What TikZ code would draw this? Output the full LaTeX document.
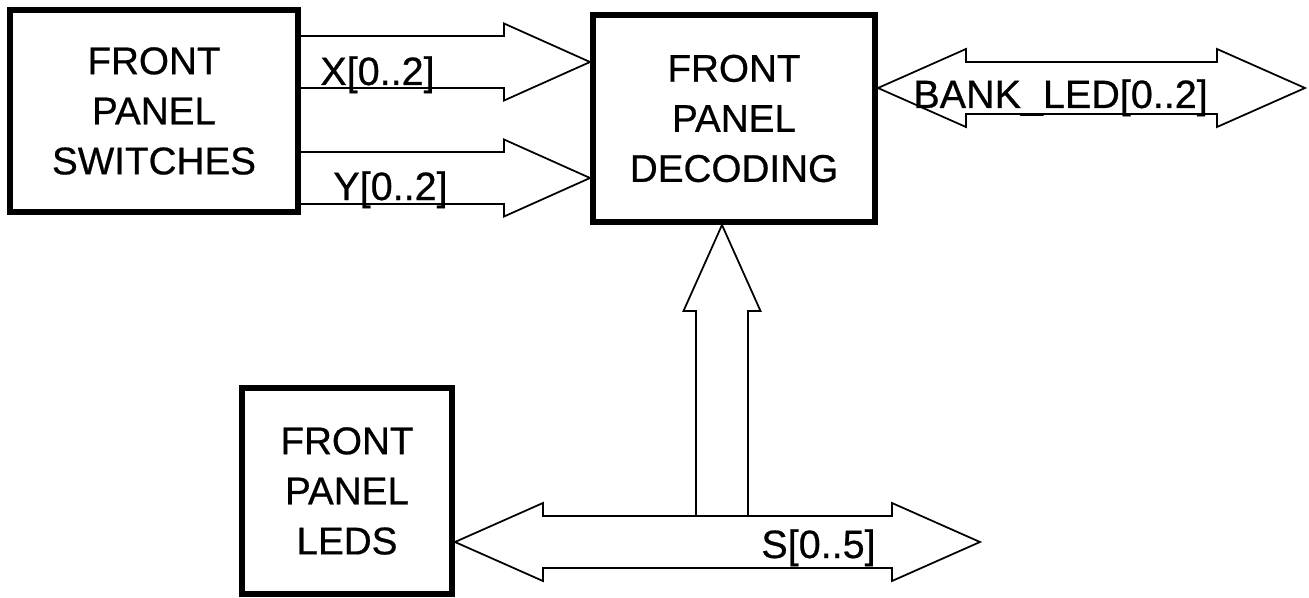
\documentclass[tikz,border=0pt]{standalone}
\usepackage{fontspec}
\setmainfont{Liberation Sans}[FakeBold=0.6]
\usetikzlibrary{calc,positioning}

% fat bus arrow, from tail #1 to tip #2
\newcommand{\busarrow}[2]{%
  \coordinate (hb) at ($(#2)!1.72cm!(#1)$);
  \draw[bus] ($(#1)!0.52cm!90:(#2)$) -- ($(hb)!0.52cm!-90:(#1)$)
    -- ($(hb)!0.77cm!-90:(#1)$) -- (#2) -- ($(hb)!0.77cm!90:(#1)$)
    -- ($(hb)!0.52cm!90:(#1)$) -- ($(#1)!0.52cm!-90:(#2)$);
}
% fat bus arrow with a head at both ends
\newcommand{\dbusarrow}[2]{%
  \coordinate (hba) at ($(#1)!1.76cm!(#2)$);
  \coordinate (hbb) at ($(#2)!1.76cm!(#1)$);
  \draw[bus] (#1) -- ($(hba)!0.78cm!90:(#2)$) -- ($(hba)!0.52cm!90:(#2)$)
    -- ($(hbb)!0.52cm!-90:(#1)$) -- ($(hbb)!0.78cm!-90:(#1)$) -- (#2)
    -- ($(hbb)!0.78cm!90:(#1)$) -- ($(hbb)!0.52cm!90:(#1)$)
    -- ($(hba)!0.52cm!-90:(#2)$) -- ($(hba)!0.78cm!-90:(#2)$) -- cycle;
}

\begin{document}
\begin{tikzpicture}[x=0.02cm, y=-0.02cm,
    box/.style={draw, line width=3.4pt, align=center, inner sep=0pt,
      font=\fontsize{22}{28.5}\selectfont},
    bus/.style={line width=1pt, line join=miter},
    lbl/.style={inner sep=0pt, anchor=base west, font=\fontsize{22.5}{26}\selectfont}]
  \useasboundingbox (0,0) rectangle (1309,598);

  % Boxes
  \node[box, minimum width=5.76cm, minimum height=4.04cm] (sw) at (154,111)
    {FRONT\\PANEL\\SWITCHES};
  \node[box, minimum width=5.64cm, minimum height=4.14cm] (dec) at (734,118.5)
    {FRONT\\PANEL\\DECODING};
  \node[box, minimum width=4.2cm, minimum height=4.12cm] (leds) at (347,491)
    {FRONT\\PANEL\\LEDS};

  % Bus end points
  \coordinate (xa) at (sw.east |- 0,62);
  \coordinate (xb) at (dec.west |- 0,62);
  \coordinate (ya) at (sw.east |- 0,178);
  \coordinate (yb) at (dec.west |- 0,178);
  \coordinate (banka) at (dec.east |- 0,88);
  \coordinate (bankb) at (1305,88);
  \coordinate (sa) at (leds.east |- 0,542);
  \coordinate (sb) at (980,542);
  \coordinate (stail) at (722,516);
  \coordinate (stip) at (dec.south -| stail);

  % Arrows
  \busarrow{xa}{xb}
  \busarrow{ya}{yb}
  \dbusarrow{banka}{bankb}
  \dbusarrow{sa}{sb}
  \busarrow{stail}{stip}

  % Labels
  \node[lbl] (xlbl) at (320,85) {X[0..2]};
  \node[lbl] (ylbl) at (333,200) {Y[0..2]};
  \node[lbl] (banklbl) at (913,108) {BANK\_LED[0..2]};
  \node[lbl] (slbl) at (761,558) {S[0..5]};
\end{tikzpicture}
\end{document}
